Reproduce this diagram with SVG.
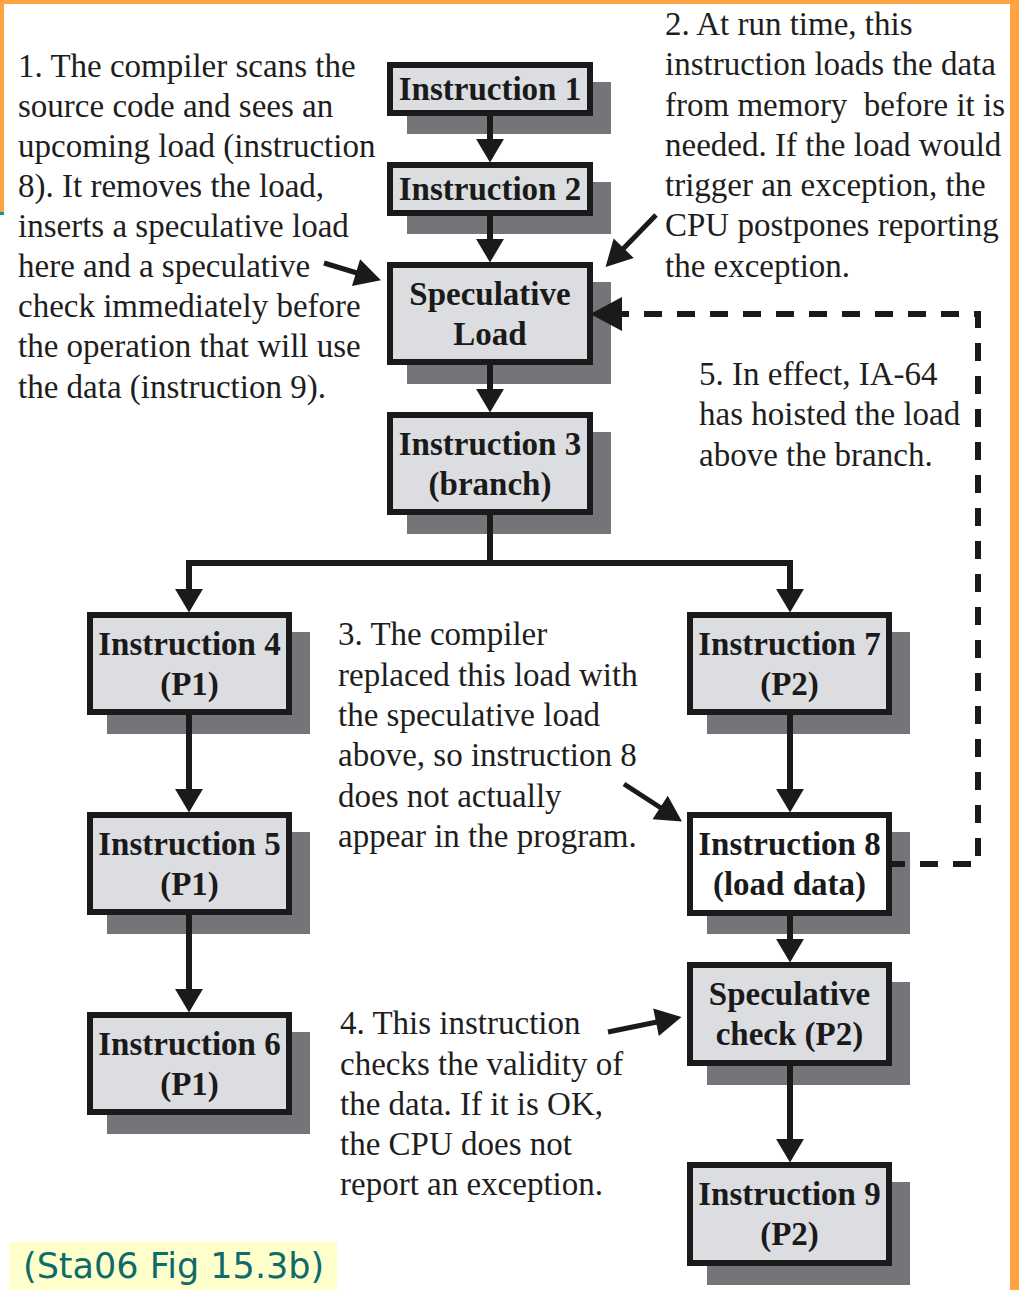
<svg xmlns="http://www.w3.org/2000/svg" width="1019" height="1290" viewBox="0 0 1019 1290">
  <style>
    .shadow { fill: #747578; }
    .box { fill: #dcdde0; stroke: #1a1a1a; stroke-width: 6; }
    .box.plain { fill: #ffffff; }
    .label { font-family: "Liberation Serif", "Times New Roman", serif; font-size: 33px; font-weight: bold; fill: #1a1a1a; text-anchor: middle; }
    .note { font-family: "Liberation Serif", "Times New Roman", serif; font-size: 33px; fill: #1e1e1e; }
    .flow { fill: none; stroke: #1a1a1a; stroke-width: 6; marker-end: url(#head); }
    .branch { fill: none; stroke: #1a1a1a; stroke-width: 6; }
    .hoist { fill: none; stroke: #1a1a1a; stroke-width: 6; stroke-dasharray: 18 15; marker-end: url(#headWide); }
    .pointer { fill: none; stroke: #1a1a1a; stroke-width: 5; marker-end: url(#headThin); }
    .caption { font-family: "DejaVu Sans", Verdana, sans-serif; font-size: 35px; fill: #0e6b6b; }
  </style>
  <defs>
    <marker id="head" markerUnits="userSpaceOnUse" markerWidth="30" markerHeight="30" viewBox="0 -14 24 28" refX="1" refY="0" orient="auto">
      <path d="M0,-13 L22,0 L0,13 Z" fill="#1a1a1a"/>
    </marker>
    <marker id="headWide" markerUnits="userSpaceOnUse" markerWidth="34" markerHeight="36" viewBox="0 -17 32 34" refX="1" refY="0" orient="auto">
      <path d="M0,-16 L30,0 L0,16 Z" fill="#1a1a1a"/>
    </marker>
    <marker id="headThin" markerUnits="userSpaceOnUse" markerWidth="30" markerHeight="30" viewBox="0 -15 28 30" refX="1" refY="0" orient="auto">
      <path d="M0,-14 L26,0 L0,14 Z" fill="#1a1a1a"/>
    </marker>
  </defs>

  <!-- page and frame -->
  <rect x="0" y="0" width="1019" height="1290" fill="#ffffff"/>
  <rect x="0" y="0" width="1019" height="4" fill="#ffa343"/>
  <rect x="0" y="0" width="4" height="212" fill="#ffa343"/>
  <rect x="0" y="212" width="4" height="3" fill="#1a8f8f"/>
  <rect x="1010" y="0" width="9" height="1290" fill="#ffa343"/>

  <!-- nodes -->
  <g id="instr1">
    <rect class="shadow" x="407" y="82" width="204" height="52"/>
    <rect class="box" x="390" y="65" width="200" height="48"/>
    <text class="label" x="490" y="100">Instruction 1</text>
  </g>
  <g id="instr2">
    <rect class="shadow" x="407" y="182" width="204" height="52"/>
    <rect class="box" x="390" y="165" width="200" height="48"/>
    <text class="label" x="490" y="200">Instruction 2</text>
  </g>
  <g id="specLoad">
    <rect class="shadow" x="407" y="282" width="204" height="102"/>
    <rect class="box" x="390" y="265" width="200" height="97"/>
    <text class="label" x="490" y="305">Speculative</text>
    <text class="label" x="490" y="345">Load</text>
  </g>
  <g id="instr3">
    <rect class="shadow" x="407" y="432" width="204" height="102"/>
    <rect class="box" x="390" y="415" width="200" height="97"/>
    <text class="label" x="490" y="455">Instruction 3</text>
    <text class="label" x="490" y="495">(branch)</text>
  </g>
  <g id="instr4">
    <rect class="shadow" x="107" y="632" width="203" height="102"/>
    <rect class="box" x="90" y="615" width="199" height="97"/>
    <text class="label" x="189.5" y="655">Instruction 4</text>
    <text class="label" x="189.5" y="695">(P1)</text>
  </g>
  <g id="instr5">
    <rect class="shadow" x="107" y="832" width="203" height="102"/>
    <rect class="box" x="90" y="815" width="199" height="97"/>
    <text class="label" x="189.5" y="855">Instruction 5</text>
    <text class="label" x="189.5" y="895">(P1)</text>
  </g>
  <g id="instr6">
    <rect class="shadow" x="107" y="1032" width="203" height="102"/>
    <rect class="box" x="90" y="1015" width="199" height="97"/>
    <text class="label" x="189.5" y="1055">Instruction 6</text>
    <text class="label" x="189.5" y="1095">(P1)</text>
  </g>
  <g id="instr7">
    <rect class="shadow" x="707" y="632" width="203" height="102"/>
    <rect class="box" x="690" y="615" width="199" height="97"/>
    <text class="label" x="789.5" y="655">Instruction 7</text>
    <text class="label" x="789.5" y="695">(P2)</text>
  </g>
  <g id="instr8">
    <rect class="shadow" x="707" y="832" width="203" height="102"/>
    <rect class="box plain" x="690" y="815" width="199" height="98"/>
    <text class="label" x="789.5" y="855">Instruction 8</text>
    <text class="label" x="789.5" y="895">(load data)</text>
  </g>
  <g id="specCheck">
    <rect class="shadow" x="707" y="982" width="203" height="103"/>
    <rect class="box" x="690" y="965" width="199" height="98"/>
    <text class="label" x="789.5" y="1005">Speculative</text>
    <text class="label" x="789.5" y="1045">check (P2)</text>
  </g>
  <g id="instr9">
    <rect class="shadow" x="707" y="1182" width="203" height="103"/>
    <rect class="box" x="690" y="1165" width="199" height="98"/>
    <text class="label" x="789.5" y="1205">Instruction 9</text>
    <text class="label" x="789.5" y="1245">(P2)</text>
  </g>

  <!-- connectors, drawn over the drop shadows -->
  <g id="connectors">
    <path class="flow" d="M490,116 V140"/>
    <path class="flow" d="M490,216 V240"/>
    <path class="flow" d="M490,365 V390"/>
    <path class="branch" d="M490,515 V563 M186,563 H793"/>
    <path class="flow" d="M189,563 V590"/>
    <path class="flow" d="M790,563 V590"/>
    <path class="flow" d="M189,715 V790"/>
    <path class="flow" d="M189,915 V990"/>
    <path class="flow" d="M790,715 V790"/>
    <path class="flow" d="M790,916 V940"/>
    <path class="flow" d="M790,1066 V1140"/>
    <path class="hoist" d="M887,864 H978 V314 H621"/>
    <path class="pointer" d="M324,263 L357,273"/>
    <path class="pointer" d="M656,215 L623,249"/>
    <path class="pointer" d="M624,784 L661,808"/>
    <path class="pointer" d="M608,1032 L657,1022"/>
  </g>

  <!-- annotations -->
  <g id="note1" class="note">
    <text x="18" y="77">1. The compiler scans the</text>
    <text x="18" y="117">source code and sees an</text>
    <text x="18" y="157">upcoming load (instruction</text>
    <text x="18" y="197">8). It removes the load,</text>
    <text x="18" y="237">inserts a speculative load</text>
    <text x="18" y="277">here and a speculative</text>
    <text x="18" y="317">check immediately before</text>
    <text x="18" y="357">the operation that will use</text>
    <text x="18" y="398">the data (instruction 9).</text>
  </g>
  <g id="note2" class="note">
    <text x="665" y="35">2. At run time, this</text>
    <text x="665" y="75">instruction loads the data</text>
    <text x="665" y="116" xml:space="preserve">from memory  before it is</text>
    <text x="665" y="156">needed. If the load would</text>
    <text x="665" y="196">trigger an exception, the</text>
    <text x="665" y="236">CPU postpones reporting</text>
    <text x="665" y="277">the exception.</text>
  </g>
  <g id="note3" class="note">
    <text x="338" y="645">3. The compiler</text>
    <text x="338" y="686">replaced this load with</text>
    <text x="338" y="726">the speculative load</text>
    <text x="338" y="766">above, so instruction 8</text>
    <text x="338" y="807">does not actually</text>
    <text x="338" y="847">appear in the program.</text>
  </g>
  <g id="note4" class="note">
    <text x="340" y="1034">4. This instruction</text>
    <text x="340" y="1075">checks the validity of</text>
    <text x="340" y="1115">the data. If it is OK,</text>
    <text x="340" y="1155">the CPU does not</text>
    <text x="340" y="1195">report an exception.</text>
  </g>
  <g id="note5" class="note">
    <text x="699" y="385">5. In effect, IA-64</text>
    <text x="699" y="425">has hoisted the load</text>
    <text x="699" y="466">above the branch.</text>
  </g>

  <!-- figure reference -->
  <g id="caption">
    <rect x="9" y="1242" width="328" height="48" fill="#ffffcc"/>
    <text class="caption" x="23" y="1278">(Sta06 Fig 15.3b)</text>
  </g>
</svg>
